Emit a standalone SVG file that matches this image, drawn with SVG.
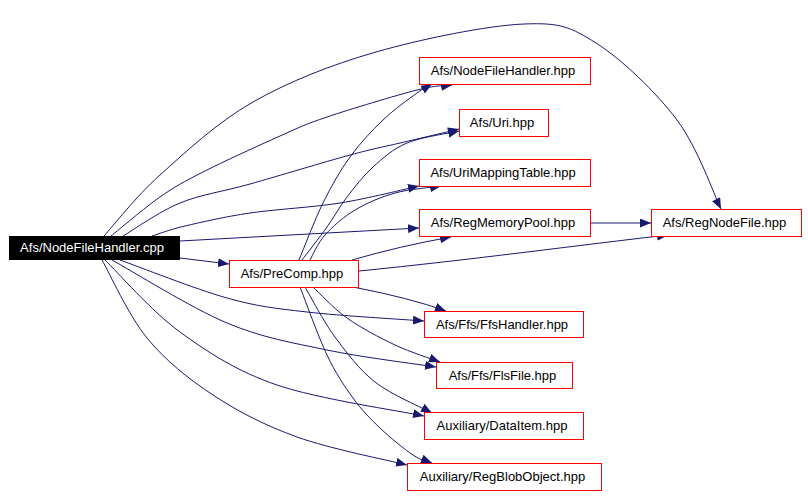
<svg xmlns="http://www.w3.org/2000/svg" width="808" height="496" viewBox="0 0 808 496">
<style>
.box{fill:#ffffff;stroke:#ff0000;stroke-width:1}
.root{fill:#000000;stroke:#000000;stroke-width:1}
.lbl{font-family:"Liberation Sans",Arial,sans-serif;font-size:13px;fill:#000000;text-anchor:middle}
.rlbl{font-family:"Liberation Sans",Arial,sans-serif;font-size:13px;fill:#ffffff;text-anchor:middle}
.e{fill:none;stroke:#191970;stroke-width:1;marker-end:url(#ah)}
</style>
<defs>
<marker id="ah" viewBox="0 0 11 9" refX="11" refY="4.5" markerWidth="11" markerHeight="9" markerUnits="userSpaceOnUse" orient="auto">
<path d="M0,0 L11,4.5 L0,9 z" fill="#191970"/>
</marker>
</defs>
<rect x="0" y="0" width="808" height="496" fill="#ffffff"/>
<g id="connectors">
<path id="e1" class="e" d="M104,236 C113.3,225.8 135.2,197.3 160,175 C184.8,152.7 217,122.5 253,102 C289,81.5 330.8,65 376,52 C421.2,39 487.3,25.5 524,24 C560.7,22.5 570.5,27 596,43 C621.5,59 656.2,92.3 677,120 C697.8,147.7 713.7,194.2 721,209"/>
<path id="e2" class="e" d="M111,236 C119.2,229.5 144.7,207.7 160,197 C175.3,186.3 183,182.2 203,172 C223,161.8 259.3,145.2 280,136 C300.7,126.8 304.2,124.7 327,117 C349.8,109.3 396.2,95.3 417,90 C437.8,84.7 446.2,85.8 452,85"/>
<path id="e3" class="e" d="M123,236 C132.5,230.5 158.8,211.7 180,203 C201.2,194.3 221.7,192 250,184 C278.3,176 325,161.8 350,155 C375,148.2 381.8,147.3 400,143 C418.2,138.7 450.3,131.3 459,129"/>
<path id="e4" class="e" d="M152,236 C157.5,234.3 168.7,229.8 185,226 C201.3,222.2 224.2,216.8 250,213 C275.8,209.2 311.8,207.5 340,203 C368.2,198.5 405.8,188.8 419,186"/>
<path id="e5" class="e" d="M180,241 L419,228"/>
<path id="e6" class="e" d="M180,258 L229,264"/>
<path id="e7" class="e" d="M120,260 C137.8,266.3 195.8,289.3 227,298 C258.2,306.7 274.2,308.2 307,312 C339.8,315.8 404.5,319.5 424,321"/>
<path id="e8" class="e" d="M112,260 C131.2,270.5 191.2,308 227,323 C262.8,338 292.2,342.7 327,350 C361.8,357.3 417.8,364.2 436,367"/>
<path id="e9" class="e" d="M105,260 C117.5,272 151.3,311.2 180,332 C208.7,352.8 236.3,371 277,385 C317.7,399 399.5,410.8 424,416"/>
<path id="e10" class="e" d="M102,260 C109.5,273 128.5,315.5 147,338 C165.5,360.5 188,378.5 213,395 C238,411.5 264.7,425.3 297,437 C329.3,448.7 388.7,460.3 407,465"/>
<path id="e11" class="e" d="M299,260 C303,250.5 314.5,220.2 323,203 C331.5,185.8 340,170.8 350,157 C360,143.2 371.8,130.7 383,120 C394.2,109.3 408.8,99 417,93 C425.2,87 429.5,85.5 432,84"/>
<path id="e12" class="e" d="M302,260 C306.2,254.5 319.5,237.5 327,227 C334.5,216.5 339.3,207 347,197 C354.7,187 363,176 373,167 C383,158 392.7,149 407,143 C421.3,137 450.3,133 459,131"/>
<path id="e13" class="e" d="M310,260 C312.5,255.8 317.5,243.3 325,235 C332.5,226.7 343.3,217 355,210 C366.7,203 380.7,197 395,193 C409.3,189 433.3,187.2 441,186"/>
<path id="e14" class="e" d="M352,260 Q400,246 451,237"/>
<path id="e15" class="e" d="M359,271 C470,260 580,245 668,235"/>
<path id="e16" class="e" d="M591,223 L651,223"/>
<path id="e17" class="e" d="M353,287 Q410,298 446,311"/>
<path id="e18" class="e" d="M313,287 C318.7,292.2 333.3,308.3 347,318 C360.7,327.7 379.5,337.7 395,345 C410.5,352.3 432.5,359.2 440,362"/>
<path id="e19" class="e" d="M305,287 C310,295.3 323.3,321.2 335,337 C346.7,352.8 358.8,369.3 375,382 C391.2,394.7 422.5,407.8 432,413"/>
<path id="e20" class="e" d="M300,287 C304.5,298.3 318.2,336.5 327,355 C335.8,373.5 344.2,385.8 353,398 C361.8,410.2 370,418.5 380,428 C390,437.5 404.3,449.2 413,455 C421.7,460.8 428.8,461.7 432,463"/>
</g>
<g id="n_cpp"><rect class="root" x="9.5" y="236.5" width="170" height="23"/><text class="rlbl" x="92" y="252">Afs/NodeFileHandler.cpp</text></g>
<g id="n_nfh"><rect class="box" x="419.5" y="57.5" width="171" height="27"/><text class="lbl" x="503" y="75">Afs/NodeFileHandler.hpp</text></g>
<g id="n_uri"><rect class="box" x="459.5" y="109.5" width="89" height="27"/><text class="lbl" x="502" y="127">Afs/Uri.hpp</text></g>
<g id="n_umt"><rect class="box" x="419.5" y="159.5" width="171" height="27"/><text class="lbl" x="503" y="177">Afs/UriMappingTable.hpp</text></g>
<g id="n_rmp"><rect class="box" x="419.5" y="209.5" width="171" height="27"/><text class="lbl" x="503" y="227">Afs/RegMemoryPool.hpp</text></g>
<g id="n_rnf"><rect class="box" x="651.5" y="209.5" width="150" height="27"/><text class="lbl" x="724.5" y="227">Afs/RegNodeFile.hpp</text></g>
<g id="n_pre"><rect class="box" x="229.5" y="260.5" width="129" height="27"/><text class="lbl" x="292" y="278">Afs/PreComp.hpp</text></g>
<g id="n_ffs"><rect class="box" x="424.5" y="311.5" width="159" height="26"/><text class="lbl" x="502" y="329">Afs/Ffs/FfsHandler.hpp</text></g>
<g id="n_fls"><rect class="box" x="436.5" y="362.5" width="136" height="26"/><text class="lbl" x="502.5" y="380">Afs/Ffs/FlsFile.hpp</text></g>
<g id="n_di"><rect class="box" x="424.5" y="412.5" width="159" height="27"/><text class="lbl" x="502" y="430">Auxiliary/DataItem.hpp</text></g>
<g id="n_rbo"><rect class="box" x="407.5" y="463.5" width="194" height="27"/><text class="lbl" x="502.5" y="481">Auxiliary/RegBlobObject.hpp</text></g>
</svg>
